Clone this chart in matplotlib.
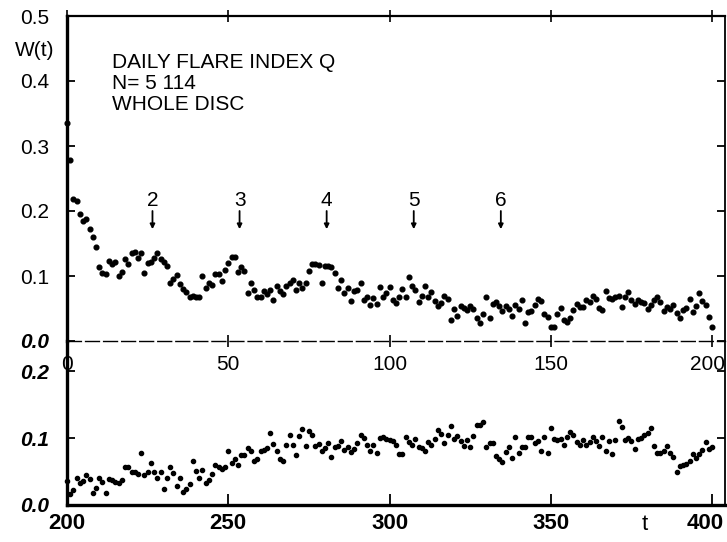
import matplotlib
matplotlib.use('Agg')
import matplotlib.pyplot as plt
from matplotlib.transforms import ScaledTranslation

plt.rcParams['font.family'] = ['Liberation Sans', 'DejaVu Sans']

# ---- data ----
t_top = list(range(0, 201))
w_top = [0.336, 0.278, 0.219, 0.216, 0.196, 0.184, 0.188, 0.172, 0.160, 0.144,
         0.114, 0.104, 0.103, 0.123, 0.119, 0.121, 0.100, 0.106, 0.126, 0.118,
         0.135, 0.137, 0.128, 0.136, 0.104, 0.120, 0.121, 0.128, 0.135, 0.126,
         0.121, 0.116, 0.090, 0.096, 0.102, 0.088, 0.080, 0.075, 0.068, 0.069,
         0.068, 0.067, 0.100, 0.081, 0.090, 0.086, 0.103, 0.103, 0.093, 0.110,
         0.120, 0.130, 0.130, 0.106, 0.114, 0.108, 0.074, 0.089, 0.078, 0.067,
         0.067, 0.077, 0.072, 0.079, 0.063, 0.085, 0.077, 0.072, 0.085, 0.089,
         0.094, 0.078, 0.089, 0.081, 0.089, 0.108, 0.118, 0.118, 0.117, 0.089,
         0.115, 0.115, 0.114, 0.104, 0.082, 0.094, 0.074, 0.081, 0.062, 0.077,
         0.078, 0.089, 0.063, 0.068, 0.055, 0.066, 0.057, 0.083, 0.068, 0.074,
         0.083, 0.063, 0.058, 0.067, 0.080, 0.067, 0.098, 0.085, 0.078, 0.060,
         0.069, 0.084, 0.067, 0.076, 0.062, 0.054, 0.058, 0.069, 0.065, 0.033,
         0.049, 0.038, 0.054, 0.051, 0.048, 0.054, 0.050, 0.036, 0.028, 0.041,
         0.067, 0.036, 0.057, 0.060, 0.054, 0.046, 0.054, 0.049, 0.038, 0.055,
         0.049, 0.063, 0.028, 0.045, 0.046, 0.055, 0.065, 0.061, 0.041, 0.037,
         0.022, 0.022, 0.041, 0.051, 0.033, 0.029, 0.036, 0.048, 0.057, 0.053,
         0.052, 0.063, 0.060, 0.070, 0.064, 0.051, 0.048, 0.077, 0.066, 0.065,
         0.067, 0.070, 0.052, 0.067, 0.075, 0.063, 0.057, 0.063, 0.060, 0.058,
         0.049, 0.056, 0.063, 0.067, 0.060, 0.046, 0.053, 0.050, 0.056, 0.043,
         0.035, 0.047, 0.051, 0.064, 0.044, 0.054, 0.074, 0.061, 0.055, 0.037,
         0.022]

t_bot = list(range(200, 401))
w_bot = [0.036, 0.016, 0.023, 0.041, 0.033, 0.036, 0.045, 0.039, 0.018, 0.025,
         0.041, 0.034, 0.018, 0.039, 0.037, 0.035, 0.033, 0.038, 0.056, 0.057,
         0.049, 0.049, 0.047, 0.078, 0.045, 0.049, 0.062, 0.049, 0.041, 0.049,
         0.024, 0.041, 0.057, 0.048, 0.029, 0.040, 0.020, 0.024, 0.032, 0.066,
         0.051, 0.040, 0.052, 0.033, 0.038, 0.047, 0.059, 0.057, 0.054, 0.057,
         0.080, 0.062, 0.068, 0.060, 0.074, 0.074, 0.085, 0.081, 0.065, 0.068,
         0.081, 0.082, 0.085, 0.108, 0.091, 0.080, 0.069, 0.065, 0.090, 0.104,
         0.089, 0.074, 0.103, 0.114, 0.088, 0.111, 0.104, 0.088, 0.091, 0.080,
         0.085, 0.093, 0.071, 0.087, 0.088, 0.096, 0.082, 0.087, 0.079, 0.084,
         0.093, 0.105, 0.100, 0.089, 0.080, 0.089, 0.077, 0.100, 0.102, 0.098,
         0.097, 0.096, 0.090, 0.076, 0.076, 0.102, 0.094, 0.090, 0.098, 0.086,
         0.085, 0.081, 0.094, 0.090, 0.099, 0.112, 0.106, 0.092, 0.104, 0.118,
         0.099, 0.103, 0.095, 0.088, 0.097, 0.087, 0.103, 0.119, 0.119, 0.124,
         0.087, 0.092, 0.093, 0.073, 0.068, 0.064, 0.079, 0.086, 0.070, 0.102,
         0.078, 0.086, 0.086, 0.102, 0.102, 0.092, 0.096, 0.081, 0.101, 0.078,
         0.115, 0.098, 0.097, 0.098, 0.090, 0.102, 0.109, 0.104, 0.094, 0.090,
         0.097, 0.090, 0.094, 0.102, 0.096, 0.088, 0.101, 0.081, 0.096, 0.076,
         0.097, 0.126, 0.117, 0.097, 0.100, 0.095, 0.084, 0.099, 0.100, 0.104,
         0.107, 0.115, 0.088, 0.077, 0.077, 0.081, 0.088, 0.077, 0.072, 0.050,
         0.058, 0.059, 0.061, 0.066, 0.076, 0.070, 0.076, 0.082, 0.094, 0.084,
         0.087]

peak_labels = ['2', '3', '4', '5', '6']
peak_t = [26.5, 53.5, 80.5, 107.5, 134.5]

top_xticks = [0, 50, 100, 150, 200]
top_yticks = [0.0, 0.1, 0.2, 0.3, 0.4, 0.5]
top_ylabels = ['0.0', '0.1', '0.2', '0.3', '0.4', '0.5']
bot_xticks = [200, 250, 300, 350, 400]
bot_yticks = [0.0, 0.1, 0.2]
bot_ylabels = ['0.0', '0.1', '0.2']

info_lines = ['DAILY FLARE INDEX Q', 'N= 5 114', 'WHOLE DISC']

# ---- layout ----
W, H = 727, 542
fig = plt.figure(figsize=(W / 100, H / 100), dpi=100)


def frac(x0, y0, x1, y1):
    return [x0 / W, 1 - y1 / H, (x1 - x0) / W, (y1 - y0) / H]


ax1 = fig.add_axes(frac(67, 16, 725, 341))
ax2 = fig.add_axes(frac(67, 341, 725, 505))

# top panel
ax1.plot(t_top, w_top, 'o', ms=3.4, color='black', ls='none', clip_on=False)
ax1.set_xlim(0, 204.0)
ax1.set_ylim(0, 0.5)
ax1.set_xticks(top_xticks)
ax1.set_xticklabels([str(v) for v in top_xticks], fontsize=15)
ax1.set_yticks(top_yticks)
ax1.set_yticklabels(top_ylabels, fontsize=15)
ax1.get_yticklabels()[0].set_fontstyle('italic')
ax1.get_yticklabels()[0].set_fontweight('bold')
ax1.tick_params(axis='y', direction='in', length=6, width=1.3, left=True, right=True, pad=13)
ax1.tick_params(axis='x', direction='inout', length=8, width=1.2, top=True, bottom=True, pad=6)
ax1.spines['left'].set_linewidth(2.4)
ax1.spines['top'].set_linewidth(1.6)
ax1.spines['right'].set_linewidth(1.3)
ax1.spines['bottom'].set_linewidth(1.0)
ax1.spines['bottom'].set_linestyle((0, (10, 3)))
ax1.patch.set_alpha(0)
lab_last = ax1.get_xticklabels()[-1]
lab_last.set_transform(lab_last.get_transform() + ScaledTranslation(-0.05, 0, fig.dpi_scale_trans))

for lab, tt in zip(peak_labels, peak_t):
    ax1.text(tt, 0.216, lab, ha='center', va='center', fontsize=15)
    ax1.annotate('', xy=(tt, 0.172), xytext=(tt, 0.200),
                 arrowprops=dict(arrowstyle='-|>', lw=1.3, color='black',
                                 mutation_scale=7, shrinkA=0, shrinkB=0))

for i, line in enumerate(info_lines):
    fig.text(112 / W, 1 - (62 + 21.5 * i) / H, line, ha='left', va='center', fontsize=15)

fig.text(35 / W, 1 - 50 / H, 'W(t)', ha='center', va='center', fontsize=15)

# bottom panel
ax2.plot(t_bot, w_bot, 'o', ms=3.0, color='black', ls='none', clip_on=False)
ax2.set_xlim(200, 404.0)
ax2.set_ylim(0, 0.2448)
ax2.set_xticks(bot_xticks)
ax2.set_xticklabels([str(v) for v in bot_xticks], fontsize=16, fontweight='bold')
ax2.set_yticks(bot_yticks)
ax2.set_yticklabels(bot_ylabels, fontsize=15, fontweight='bold', style='italic')
ax2.tick_params(axis='y', direction='in', length=6, width=1.3, left=True, right=True, pad=13)
ax2.tick_params(axis='x', direction='in', length=8, width=1.3, bottom=True, top=False, pad=6)
ax2.spines['top'].set_visible(False)
ax2.spines['left'].set_linewidth(2.4)
ax2.spines['bottom'].set_linewidth(2.4)
ax2.spines['right'].set_linewidth(1.3)
ax2.patch.set_alpha(0)
lab_last2 = ax2.get_xticklabels()[-1]
lab_last2.set_transform(lab_last2.get_transform() + ScaledTranslation(-0.07, 0, fig.dpi_scale_trans))

fig.text(645 / W, 1 - 525 / H, 't', ha='center', va='center', fontsize=16)

fig.savefig('out.png', dpi=100)
